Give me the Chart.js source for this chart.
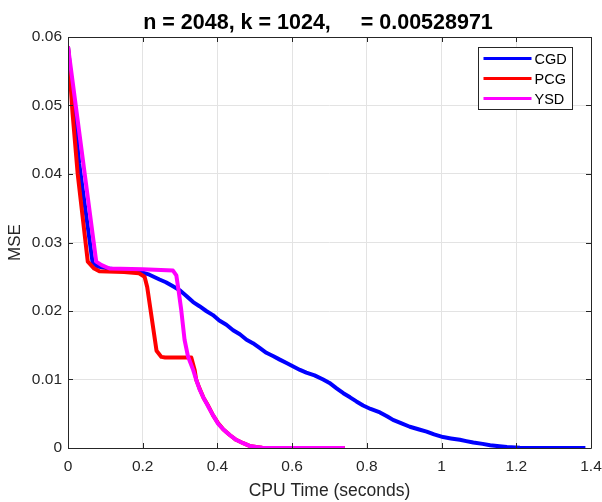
<!DOCTYPE html>
<html>
<head>
<meta charset="utf-8">
<script src="https://cdn.jsdelivr.net/npm/chart.js@4"></script>
<style>
  html, body { margin: 0; padding: 0; background: #fff; }
  #chart { display: block; }
</style>
</head>
<body>
<canvas id="chart" width="602" height="502"></canvas>
<script>
// ── data ──
const seriesNames = ['CGD', 'PCG', 'YSD'];
const seriesColors = ['#0000ff', '#ff0000', '#ff00ff'];

const cgdTime = [0, 0.03, 0.066, 0.08, 0.11, 0.15, 0.2, 0.218, 0.245, 0.262, 0.281, 0.30, 0.317, 0.335, 0.352, 0.37, 0.388, 0.405, 0.424, 0.442, 0.46, 0.478, 0.495, 0.513, 0.531, 0.55, 0.567, 0.585, 0.603, 0.621, 0.638, 0.66, 0.683, 0.70, 0.719, 0.737, 0.755, 0.772, 0.79, 0.81, 0.835, 0.855, 0.87, 0.893, 0.915, 0.94, 0.96, 0.98, 1.004, 1.025, 1.049, 1.066, 1.085, 1.11, 1.13, 1.155, 1.175, 1.21, 1.25, 1.3, 1.385];
const cgdMse  = [0.0586, 0.0415, 0.0270, 0.0265, 0.0262, 0.0259, 0.0256, 0.0253, 0.0246, 0.0242, 0.0236, 0.0230, 0.0222, 0.0213, 0.0207, 0.0200, 0.0194, 0.0186, 0.0180, 0.0172, 0.0166, 0.0158, 0.0153, 0.0146, 0.0139, 0.0134, 0.0129, 0.0124, 0.0119, 0.0114, 0.0110, 0.0106, 0.0100, 0.0095, 0.0087, 0.0080, 0.0074, 0.0068, 0.0062, 0.0057, 0.0052, 0.0046, 0.0041, 0.0036, 0.0031, 0.0027, 0.0024, 0.0020, 0.0016, 0.0014, 0.0012, 0.0010, 0.0008, 0.0006, 0.0004, 0.00025, 0.00015, 0.00005, 0.00001, 0, 0];

const pcgTime = [0, 0.012, 0.026, 0.053, 0.07, 0.084, 0.15, 0.19, 0.205, 0.212, 0.237, 0.25, 0.26, 0.33, 0.339, 0.343, 0.352, 0.363, 0.375, 0.388, 0.401, 0.416, 0.433, 0.45, 0.469, 0.486, 0.504, 0.52, 0.54, 0.741];
const pcgMse  = [0.0586, 0.0490, 0.0400, 0.0272, 0.0262, 0.0258, 0.0257, 0.0255, 0.0250, 0.0235, 0.0142, 0.0133, 0.0132, 0.0132, 0.0114, 0.0100, 0.0087, 0.0073, 0.0062, 0.0048, 0.0037, 0.0027, 0.0019, 0.0012, 0.0007, 0.0003, 0.00015, 0.00005, 0, 0];

const ysdTime = [0, 0.0756, 0.09, 0.111, 0.2, 0.281, 0.29, 0.296, 0.303, 0.312, 0.321, 0.335, 0.343, 0.352, 0.363, 0.375, 0.388, 0.401, 0.416, 0.433, 0.45, 0.469, 0.486, 0.504, 0.52, 0.54, 0.741];
const ysdMse  = [0.0586, 0.0272, 0.0267, 0.0262, 0.0261, 0.0259, 0.0252, 0.0230, 0.0202, 0.0158, 0.0134, 0.0114, 0.0100, 0.0086, 0.0073, 0.0061, 0.0048, 0.0036, 0.0027, 0.0019, 0.0012, 0.0007, 0.0003, 0.00015, 0.00005, 0, 0];

const xTicks = [0, 0.2, 0.4, 0.6, 0.8, 1, 1.2, 1.4];
const xTickLabels = ['0', '0.2', '0.4', '0.6', '0.8', '1', '1.2', '1.4'];
const yTicks = [0, 0.01, 0.02, 0.03, 0.04, 0.05, 0.06];
const yTickLabels = ['0', '0.01', '0.02', '0.03', '0.04', '0.05', '0.06'];

const titleText = 'n = 2048, k = 1024,     = 0.00528971';
const xTitle = 'CPU Time (seconds)';
const yTitle = 'MSE';

const INK = '#262626';
const GRID = '#e3e3e3';
const FONT = '"Liberation Sans", Arial, Helvetica, sans-serif';

const toPoints = (xs, ys) => xs.map((x, i) => ({ x: x, y: ys[i] }));

// ═══ title, frame, inner ticks, legend box ═══
const matlabAxes = {
  id: 'matlabAxes',
  afterDatasetsDraw(chart) {
    const { ctx, chartArea: a, scales } = chart;
    ctx.save();
    ctx.strokeStyle = INK;
    ctx.lineWidth = 1;
    ctx.beginPath();
    ctx.rect(a.left + 0.5, a.top + 0.5, a.right - a.left, a.bottom - a.top);
    ctx.stroke();
    ctx.beginPath();
    xTicks.forEach(v => {
      const px = Math.round(scales.x.getPixelForValue(v)) + 0.5;
      ctx.moveTo(px, a.bottom); ctx.lineTo(px, a.bottom - 5);
      ctx.moveTo(px, a.top); ctx.lineTo(px, a.top + 5);
    });
    yTicks.forEach(v => {
      const py = Math.round(scales.y.getPixelForValue(v)) + 0.5;
      ctx.moveTo(a.left, py); ctx.lineTo(a.left + 5, py);
      ctx.moveTo(a.right, py); ctx.lineTo(a.right - 5, py);
    });
    ctx.stroke();

    // title (a glyph in the original did not render, the gap is kept)
    ctx.fillStyle = '#000';
    ctx.font = 'bold 21.5px ' + FONT;
    ctx.textAlign = 'center';
    ctx.textBaseline = 'alphabetic';
    ctx.fillText(titleText, 318, 28.5);

    // legend, top right inside the axes
    const bx = 478.5, by = 47.5, bw = 94, bh = 62;
    ctx.fillStyle = '#fff';
    ctx.fillRect(bx, by, bw, bh);
    ctx.strokeStyle = INK;
    ctx.strokeRect(bx, by, bw, bh);
    ctx.font = '14.5px ' + FONT;
    ctx.textAlign = 'left';
    ctx.textBaseline = 'middle';
    seriesNames.forEach((name, i) => {
      const ry = by + 11 + i * 20;
      ctx.strokeStyle = seriesColors[i];
      ctx.lineWidth = 3;
      ctx.beginPath();
      ctx.moveTo(bx + 5, ry); ctx.lineTo(bx + 53, ry);
      ctx.stroke();
      ctx.fillStyle = '#000';
      ctx.fillText(name, bx + 56, ry + 1);
    });
    ctx.restore();
  }
};

new Chart(document.getElementById('chart'), {
  type: 'line',
  data: {
    datasets: [
      { label: seriesNames[0], data: toPoints(cgdTime, cgdMse), borderColor: seriesColors[0], order: 3 },
      { label: seriesNames[1], data: toPoints(pcgTime, pcgMse), borderColor: seriesColors[1], order: 2 },
      { label: seriesNames[2], data: toPoints(ysdTime, ysdMse), borderColor: seriesColors[2], order: 1 },
    ]
  },
  options: {
    responsive: false,
    animation: false,
    layout: { padding: { left: 0, right: 11, top: 37, bottom: 0 } },
    elements: {
      line: { borderWidth: 4, tension: 0, borderJoinStyle: 'round', borderCapStyle: 'butt', fill: false },
      point: { radius: 0 }
    },
    plugins: {
      legend: { display: false },
      tooltip: { enabled: false },
      title: { display: false }
    },
    scales: {
      x: {
        type: 'linear',
        min: 0, max: 1.4,
        afterBuildTicks: s => { s.ticks = xTicks.map(v => ({ value: v })); },
        afterFit: s => { s.height = 54; s.paddingLeft = 0; s.paddingRight = 0; },
        ticks: {
          color: INK, padding: 9, maxRotation: 0,
          font: { family: FONT, size: 15.5 },
          callback: (v, i) => xTickLabels[i]
        },
        grid: { color: GRID, drawTicks: false },
        border: { display: false },
        title: { display: true, text: xTitle, color: INK, font: { family: FONT, size: 17.5 }, padding: { top: 0.5, bottom: 0 } }
      },
      y: {
        type: 'linear',
        min: 0, max: 0.06,
        afterBuildTicks: s => { s.ticks = yTicks.map(v => ({ value: v })); },
        afterFit: s => { s.width = 68; s.paddingTop = 0; s.paddingBottom = 0; },
        ticks: {
          color: INK, padding: 6,
          font: { family: FONT, size: 15.5 },
          callback: (v, i) => yTickLabels[i]
        },
        grid: { color: GRID, drawTicks: false },
        border: { display: false },
        title: { display: true, text: yTitle, color: INK, font: { family: FONT, size: 17 }, padding: { top: 5.5, bottom: 0 } }
      }
    }
  },
  plugins: [matlabAxes]
});
</script>
</body>
</html>
